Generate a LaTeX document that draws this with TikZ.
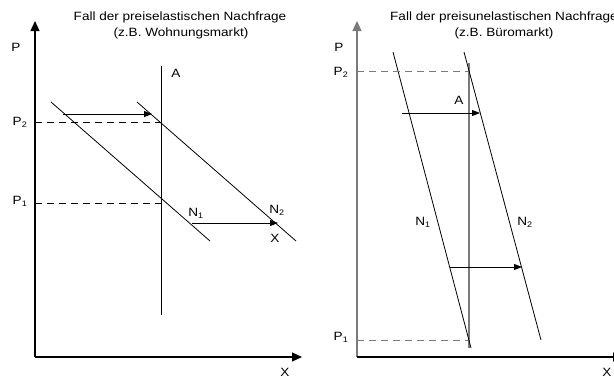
\documentclass[tikz,border=0pt]{standalone}
\usepackage{fontspec}
\setmainfont{Liberation Sans}[FakeStretch=1.13]
\usetikzlibrary{arrows.meta}
\definecolor{axgray}{HTML}{7A7A7A}
\tikzset{
  lbl/.style={inner sep=0pt, font=\fontsize{12}{14}\selectfont},
  ttl/.style={inner sep=0pt, font=\fontsize{12}{15}\selectfont},
  axisline/.style={line width=1.2pt, -{Triangle[length=10pt,width=9pt]}},
  curveline/.style={line width=0.8pt},
  shiftarrow/.style={line width=0.9pt, -{Triangle[length=8pt,width=6pt]}},
  guideline/.style={line width=0.8pt, dash pattern=on 7pt off 5pt},
}
\begin{document}
\begin{tikzpicture}[x=1pt,y=-1pt]
\useasboundingbox (0,0) rectangle (614,378);
% ---------- left panel ----------
\node[ttl] (lt1) at (180,17) {Fall der preiselastischen Nachfrage};
\node[ttl] (lt2) at (181,33) {(z.B. Wohnungsmarkt)};
\coordinate (lO) at (35,357);
\coordinate (lYt) at (35,21);
\coordinate (lXe) at (302,357);
\draw[axisline] (lO) -- (lYt);
\draw[axisline] (lO) -- (lXe);
\coordinate (lAt) at (161,66);
\coordinate (lAb) at (161,315);
\draw[line width=1pt] (lAt) -- (lAb);
\coordinate (lN1a) at (51,102);
\coordinate (lN1b) at (210,241);
\coordinate (lN2a) at (137,102);
\coordinate (lN2b) at (296,241);
\draw[curveline] (lN1a) -- (lN1b);
\draw[curveline] (lN2a) -- (lN2b);
\coordinate (lP2a) at (35,122);
\coordinate (lP2b) at (161,122);
\coordinate (lP1a) at (35,203);
\coordinate (lP1b) at (161,203);
\draw[guideline] (lP2a) -- (lP2b);
\draw[guideline] (lP1a) -- (lP1b);
\coordinate (lS1a) at (63,114);
\coordinate (lS1b) at (152,114);
\coordinate (lS2a) at (192,223);
\coordinate (lS2b) at (278,223);
\draw[shiftarrow] (lS1a) -- (lS1b);
\draw[shiftarrow] (lS2a) -- (lS2b);
\node[lbl] (lP) at (16,47) {P};
\node[lbl] (lP2) at (20,122) {P\textsubscript{2}};
\node[lbl] (lP1) at (20,201) {P\textsubscript{1}};
\node[lbl] (lA) at (176,73) {A};
\node[lbl] (lN1) at (196,213) {N\textsubscript{1}};
\node[lbl] (lN2) at (277,210) {N\textsubscript{2}};
\node[lbl] (lX1) at (275,238) {X};
\node[lbl] (lX) at (285,372) {X};
% ---------- right panel ----------
\node[ttl] (rt1) at (504,17) {Fall der preisunelastischen Nachfrage};
\node[ttl] (rt2) at (504,33) {(z.B. Büromarkt)};
\coordinate (rO) at (357,357);
\coordinate (rYt) at (357,21);
\coordinate (rXe) at (623,357);
\draw[axisline, axgray] (rO) -- (rYt);
\draw[axisline] (rO) -- (rXe);
\coordinate (rAt) at (469,63);
\coordinate (rAb) at (469,348);
\draw[line width=1.2pt, axgray] (rAt) -- (rAb);
\coordinate (rN1a) at (393,52);
\coordinate (rN1b) at (471,348);
\coordinate (rN2a) at (464,52);
\coordinate (rN2b) at (541,340);
\draw[curveline] (rN1a) -- (rN1b);
\draw[curveline] (rN2a) -- (rN2b);
\coordinate (rP2a) at (357,71);
\coordinate (rP2b) at (468,71);
\coordinate (rP1a) at (357,340);
\coordinate (rP1b) at (468,340);
\draw[guideline, axgray] (rP2a) -- (rP2b);
\draw[guideline, axgray] (rP1a) -- (rP1b);
\coordinate (rS1a) at (402,113);
\coordinate (rS1b) at (480,113);
\coordinate (rS2a) at (450,267);
\coordinate (rS2b) at (522,267);
\draw[shiftarrow] (rS1a) -- (rS1b);
\draw[shiftarrow] (rS2a) -- (rS2b);
\node[lbl] (rP) at (339,47) {P};
\node[lbl] (rP2) at (341,72) {P\textsubscript{2}};
\node[lbl] (rP1) at (341,337) {P\textsubscript{1}};
\node[lbl] (rA) at (459,100) {A};
\node[lbl] (rN1) at (423,222) {N\textsubscript{1}};
\node[lbl] (rN2) at (525,222) {N\textsubscript{2}};
\node[lbl] (rX) at (607,372) {X};
\end{tikzpicture}
\end{document}
